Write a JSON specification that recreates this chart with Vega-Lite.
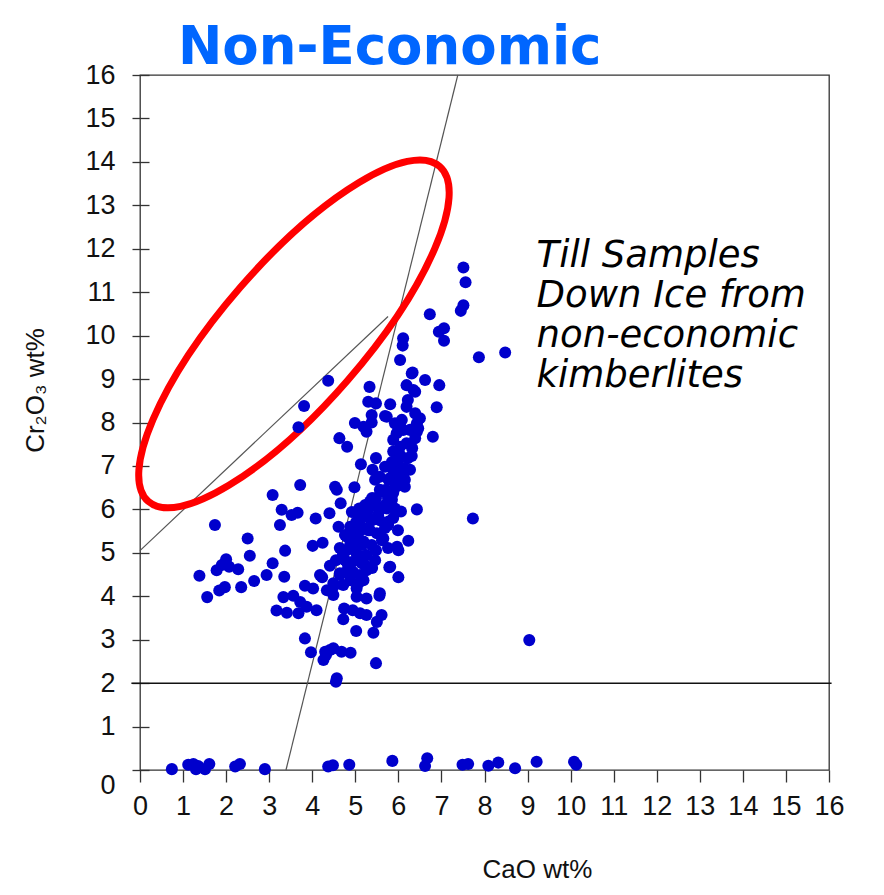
{
  "$schema": "https://vega.github.io/schema/vega-lite/v6.json",
  "width": 689,
  "height": 695,
  "autosize": {"type": "none"},
  "padding": {"left": 140, "top": 75, "right": 55, "bottom": 125},
  "background": "#ffffff",
  "config": {
    "view": {"stroke": "#333333", "strokeWidth": 1.3}
  },
  "title": {
    "text": "Non-Economic",
    "anchor": "start",
    "frame": "group",
    "dx": 38,
    "font": "DejaVu Sans",
    "fontSize": 53,
    "fontWeight": "bold",
    "color": "#0066ff",
    "baseline": "alphabetic",
    "offset": -56
  },
  "datasets": {
    "garnets": [
      {"CaO":3.72,"Cr2O3":6.56},{"CaO":3.08,"Cr2O3":6.33},{"CaO":4.53,"Cr2O3":6.52},{"CaO":4.57,"Cr2O3":6.45},{"CaO":4.98,"Cr2O3":6.51},
      {"CaO":3.29,"Cr2O3":5.99},{"CaO":3.52,"Cr2O3":5.87},{"CaO":3.66,"Cr2O3":5.92},{"CaO":4.08,"Cr2O3":5.79},{"CaO":4.40,"Cr2O3":5.91},
      {"CaO":4.66,"Cr2O3":6.14},{"CaO":1.74,"Cr2O3":5.64},{"CaO":3.25,"Cr2O3":5.64},{"CaO":4.61,"Cr2O3":5.60},{"CaO":2.50,"Cr2O3":5.33},
      {"CaO":4.01,"Cr2O3":5.16},{"CaO":4.24,"Cr2O3":5.23},{"CaO":3.37,"Cr2O3":5.05},{"CaO":2.55,"Cr2O3":4.93},{"CaO":2.00,"Cr2O3":4.85},
      {"CaO":1.90,"Cr2O3":4.72},{"CaO":1.78,"Cr2O3":4.60},{"CaO":2.28,"Cr2O3":4.62},{"CaO":2.07,"Cr2O3":4.68},{"CaO":1.38,"Cr2O3":4.47},
      {"CaO":3.08,"Cr2O3":4.76},{"CaO":2.94,"Cr2O3":4.49},{"CaO":2.65,"Cr2O3":4.35},{"CaO":2.35,"Cr2O3":4.21},{"CaO":1.97,"Cr2O3":4.21},
      {"CaO":1.84,"Cr2O3":4.13},{"CaO":1.56,"Cr2O3":3.98},{"CaO":3.35,"Cr2O3":4.45},{"CaO":4.41,"Cr2O3":4.70},{"CaO":4.23,"Cr2O3":4.44},
      {"CaO":3.83,"Cr2O3":4.24},{"CaO":4.02,"Cr2O3":4.18},{"CaO":3.33,"Cr2O3":3.98},{"CaO":3.56,"Cr2O3":4.01},{"CaO":3.72,"Cr2O3":3.87},
      {"CaO":3.87,"Cr2O3":3.76},{"CaO":4.10,"Cr2O3":3.68},{"CaO":3.17,"Cr2O3":3.67},{"CaO":3.41,"Cr2O3":3.62},{"CaO":3.68,"Cr2O3":3.61},
      {"CaO":4.34,"Cr2O3":4.14},{"CaO":4.49,"Cr2O3":4.03},{"CaO":4.72,"Cr2O3":4.26},{"CaO":4.88,"Cr2O3":4.37},{"CaO":5.03,"Cr2O3":4.18},
      {"CaO":5.19,"Cr2O3":4.37},{"CaO":5.03,"Cr2O3":3.99},{"CaO":5.26,"Cr2O3":3.95},{"CaO":5.56,"Cr2O3":4.01},{"CaO":4.74,"Cr2O3":3.72},
      {"CaO":4.94,"Cr2O3":3.68},{"CaO":5.11,"Cr2O3":3.61},{"CaO":5.26,"Cr2O3":3.57},{"CaO":4.72,"Cr2O3":3.47},{"CaO":5.61,"Cr2O3":3.57},
      {"CaO":5.50,"Cr2O3":3.41},{"CaO":5.42,"Cr2O3":3.16},{"CaO":5.02,"Cr2O3":3.20},{"CaO":3.83,"Cr2O3":3.03},{"CaO":3.97,"Cr2O3":2.71},
      {"CaO":4.30,"Cr2O3":2.72},{"CaO":4.49,"Cr2O3":2.80},{"CaO":4.68,"Cr2O3":2.72},{"CaO":4.89,"Cr2O3":2.70},{"CaO":4.26,"Cr2O3":2.53},
      {"CaO":4.32,"Cr2O3":2.65},{"CaO":5.48,"Cr2O3":2.46},{"CaO":4.57,"Cr2O3":2.11},{"CaO":4.55,"Cr2O3":2.03},{"CaO":5.79,"Cr2O3":4.67},
      {"CaO":6.00,"Cr2O3":4.44},{"CaO":6.00,"Cr2O3":5.06},{"CaO":6.23,"Cr2O3":5.28},{"CaO":6.43,"Cr2O3":6.00},{"CaO":5.98,"Cr2O3":5.95},
      {"CaO":4.71,"Cr2O3":4.95},{"CaO":4.88,"Cr2O3":5.18},{"CaO":4.76,"Cr2O3":5.41},{"CaO":4.99,"Cr2O3":5.52},{"CaO":5.11,"Cr2O3":5.76},
      {"CaO":4.92,"Cr2O3":5.94},{"CaO":5.23,"Cr2O3":6.10},{"CaO":5.39,"Cr2O3":6.26},{"CaO":5.57,"Cr2O3":6.45},{"CaO":5.46,"Cr2O3":6.68},
      {"CaO":5.81,"Cr2O3":6.72},{"CaO":5.92,"Cr2O3":6.91},{"CaO":6.04,"Cr2O3":6.56},{"CaO":5.69,"Cr2O3":6.10},{"CaO":5.53,"Cr2O3":5.87},
      {"CaO":5.34,"Cr2O3":5.52},{"CaO":5.16,"Cr2O3":5.18},{"CaO":5.06,"Cr2O3":4.83},{"CaO":4.83,"Cr2O3":4.72},{"CaO":4.64,"Cr2O3":4.49},
      {"CaO":5.23,"Cr2O3":4.72},{"CaO":5.46,"Cr2O3":4.83},{"CaO":5.62,"Cr2O3":5.29},{"CaO":5.76,"Cr2O3":5.64},{"CaO":5.85,"Cr2O3":6.22},
      {"CaO":6.15,"Cr2O3":6.68},{"CaO":6.27,"Cr2O3":6.91},{"CaO":5.76,"Cr2O3":5.11},{"CaO":5.48,"Cr2O3":5.06},
      {"CaO":4.37,"Cr2O3":8.96},{"CaO":3.81,"Cr2O3":8.38},{"CaO":3.68,"Cr2O3":7.89},{"CaO":5.33,"Cr2O3":8.82},{"CaO":5.30,"Cr2O3":8.48},
      {"CaO":5.48,"Cr2O3":8.44},{"CaO":5.81,"Cr2O3":8.42},{"CaO":6.31,"Cr2O3":9.13},{"CaO":6.19,"Cr2O3":8.86},{"CaO":6.39,"Cr2O3":8.71},
      {"CaO":6.62,"Cr2O3":8.98},{"CaO":6.95,"Cr2O3":8.86},{"CaO":6.89,"Cr2O3":8.35},{"CaO":6.19,"Cr2O3":8.36},{"CaO":6.39,"Cr2O3":8.21},
      {"CaO":5.38,"Cr2O3":8.17},{"CaO":5.38,"Cr2O3":8.00},{"CaO":4.99,"Cr2O3":7.99},{"CaO":5.19,"Cr2O3":7.90},{"CaO":5.26,"Cr2O3":7.79},
      {"CaO":5.73,"Cr2O3":8.13},{"CaO":5.92,"Cr2O3":7.98},{"CaO":6.43,"Cr2O3":7.98},{"CaO":5.96,"Cr2O3":7.75},{"CaO":6.27,"Cr2O3":7.83},
      {"CaO":6.43,"Cr2O3":7.79},{"CaO":6.80,"Cr2O3":7.67},{"CaO":4.63,"Cr2O3":7.64},{"CaO":4.81,"Cr2O3":7.44},{"CaO":5.88,"Cr2O3":7.60},
      {"CaO":6.04,"Cr2O3":7.44},{"CaO":6.19,"Cr2O3":7.52},{"CaO":5.88,"Cr2O3":7.33},{"CaO":6.00,"Cr2O3":7.14},{"CaO":6.31,"Cr2O3":7.23},
      {"CaO":5.48,"Cr2O3":7.18},{"CaO":5.13,"Cr2O3":7.04},{"CaO":5.40,"Cr2O3":6.91},{"CaO":5.69,"Cr2O3":6.98},{"CaO":5.88,"Cr2O3":6.91},
      {"CaO":6.11,"Cr2O3":6.79},{"CaO":5.57,"Cr2O3":6.75},{"CaO":5.77,"Cr2O3":6.68},{"CaO":5.96,"Cr2O3":6.60},{"CaO":6.15,"Cr2O3":6.52},
      {"CaO":5.65,"Cr2O3":6.41},{"CaO":5.88,"Cr2O3":6.38},{"CaO":5.34,"Cr2O3":6.18},{"CaO":5.53,"Cr2O3":6.06},{"CaO":5.09,"Cr2O3":6.02},
      {"CaO":5.23,"Cr2O3":5.91},{"CaO":5.73,"Cr2O3":6.02},{"CaO":5.92,"Cr2O3":6.02},{"CaO":6.06,"Cr2O3":5.95},{"CaO":5.11,"Cr2O3":5.83},
      {"CaO":5.34,"Cr2O3":5.79},{"CaO":5.57,"Cr2O3":5.75},{"CaO":5.77,"Cr2O3":5.72},{"CaO":4.88,"Cr2O3":5.60},{"CaO":5.09,"Cr2O3":5.49},
      {"CaO":5.30,"Cr2O3":5.52},{"CaO":5.50,"Cr2O3":5.45},{"CaO":5.65,"Cr2O3":5.33},{"CaO":4.80,"Cr2O3":5.37},{"CaO":4.95,"Cr2O3":5.22},
      {"CaO":5.19,"Cr2O3":5.26},{"CaO":5.38,"Cr2O3":5.18},{"CaO":4.80,"Cr2O3":5.06},{"CaO":5.03,"Cr2O3":4.99},{"CaO":5.26,"Cr2O3":4.95},
      {"CaO":5.97,"Cr2O3":5.14},{"CaO":4.92,"Cr2O3":4.79},{"CaO":5.15,"Cr2O3":4.76},{"CaO":5.81,"Cr2O3":4.68},{"CaO":4.18,"Cr2O3":4.49},
      {"CaO":4.64,"Cr2O3":4.53},{"CaO":4.95,"Cr2O3":4.56},{"CaO":5.26,"Cr2O3":4.60},{"CaO":4.49,"Cr2O3":4.30},{"CaO":5.07,"Cr2O3":4.30},
      {"CaO":5.57,"Cr2O3":4.07},{"CaO":4.41,"Cr2O3":2.76},{"CaO":4.49,"Cr2O3":4.22},
      {"CaO":4.76,"Cr2O3":4.83},{"CaO":4.92,"Cr2O3":5.11},{"CaO":5.06,"Cr2O3":5.34},{"CaO":5.20,"Cr2O3":5.57},{"CaO":5.39,"Cr2O3":5.75},
      {"CaO":5.57,"Cr2O3":5.99},{"CaO":5.76,"Cr2O3":6.26},{"CaO":5.92,"Cr2O3":6.49},{"CaO":6.04,"Cr2O3":6.72},{"CaO":6.13,"Cr2O3":6.95},
      {"CaO":6.22,"Cr2O3":7.18},{"CaO":6.32,"Cr2O3":7.41},{"CaO":6.39,"Cr2O3":7.64},{"CaO":6.46,"Cr2O3":7.87},{"CaO":6.50,"Cr2O3":8.10},
      {"CaO":6.08,"Cr2O3":8.06},{"CaO":6.22,"Cr2O3":8.52},{"CaO":6.04,"Cr2O3":7.25},{"CaO":5.85,"Cr2O3":7.09},{"CaO":5.71,"Cr2O3":6.45},
      {"CaO":5.48,"Cr2O3":6.26},{"CaO":5.30,"Cr2O3":5.99},{"CaO":5.02,"Cr2O3":5.71},{"CaO":4.88,"Cr2O3":5.41},{"CaO":4.64,"Cr2O3":5.11},
      {"CaO":4.55,"Cr2O3":4.83},{"CaO":4.78,"Cr2O3":4.56},{"CaO":5.11,"Cr2O3":4.49},{"CaO":5.39,"Cr2O3":4.65},{"CaO":5.69,"Cr2O3":5.57},
      {"CaO":5.88,"Cr2O3":5.80},{"CaO":5.99,"Cr2O3":5.52},
      {"CaO":7.51,"Cr2O3":11.57},{"CaO":7.56,"Cr2O3":11.23},{"CaO":7.51,"Cr2O3":10.70},{"CaO":7.45,"Cr2O3":10.57},{"CaO":6.73,"Cr2O3":10.49},
      {"CaO":7.06,"Cr2O3":10.17},{"CaO":6.94,"Cr2O3":10.09},{"CaO":7.06,"Cr2O3":9.88},{"CaO":7.87,"Cr2O3":9.50},{"CaO":8.48,"Cr2O3":9.61},
      {"CaO":6.11,"Cr2O3":9.94},{"CaO":6.10,"Cr2O3":9.77},{"CaO":6.04,"Cr2O3":9.44},{"CaO":6.33,"Cr2O3":9.15},{"CaO":6.35,"Cr2O3":8.75},
      {"CaO":5.69,"Cr2O3":8.15},{"CaO":6.11,"Cr2O3":7.83},{"CaO":7.73,"Cr2O3":5.79},{"CaO":9.04,"Cr2O3":2.99},
      {"CaO":0.74,"Cr2O3":0.02},{"CaO":1.12,"Cr2O3":0.12},{"CaO":1.24,"Cr2O3":0.14},{"CaO":1.35,"Cr2O3":0.09},{"CaO":1.51,"Cr2O3":0.02},
      {"CaO":1.61,"Cr2O3":0.14},{"CaO":1.30,"Cr2O3":0.02},{"CaO":2.21,"Cr2O3":0.08},{"CaO":2.32,"Cr2O3":0.14},{"CaO":2.90,"Cr2O3":0.02},
      {"CaO":4.37,"Cr2O3":0.08},{"CaO":4.48,"Cr2O3":0.11},{"CaO":4.86,"Cr2O3":0.12},{"CaO":5.86,"Cr2O3":0.21},{"CaO":6.62,"Cr2O3":0.09},
      {"CaO":6.67,"Cr2O3":0.27},{"CaO":7.49,"Cr2O3":0.12},{"CaO":7.62,"Cr2O3":0.14},{"CaO":8.09,"Cr2O3":0.10},{"CaO":8.32,"Cr2O3":0.17},
      {"CaO":8.71,"Cr2O3":0.04},{"CaO":9.21,"Cr2O3":0.19},{"CaO":10.08,"Cr2O3":0.19},{"CaO":10.13,"Cr2O3":0.12}
    ]
  },
  "encoding": {
    "x": {
      "field": "CaO",
      "type": "quantitative",
      "scale": {"domain": [0, 16], "nice": false, "zero": false},
      "axis": {
        "title": "CaO wt%",
        "values": [0,1,2,3,4,5,6,7,8,9,10,11,12,13,14,15,16],
        "domain": false,
        "grid": false,
        "tickSize": 12,
        "tickColor": "#333333",
        "tickWidth": 1.3,
        "labelFont": "Liberation Sans",
        "labelFontSize": 27,
        "labelColor": "#111111",
        "labelPadding": 11,
        "labelOverlap": false,
        "labelFlush": false,
        "labelBound": false,
        "titleFont": "Liberation Sans",
        "titleFontSize": 26,
        "titleFontWeight": "normal",
        "titleColor": "#111111",
        "titleX": 397,
        "titleY": 107,
        "titleAlign": "center",
        "titleBaseline": "alphabetic"
      }
    },
    "y": {
      "field": "Cr2O3",
      "type": "quantitative",
      "scale": {"domain": [0, 16], "nice": false, "zero": false},
      "axis": {
        "title": "Cr₂O₃ wt%",
        "values": [0,1,2,3,4,5,6,7,8,9,10,11,12,13,14,15,16],
        "domain": false,
        "grid": false,
        "offset": -9,
        "tickSize": 17,
        "tickColor": "#333333",
        "tickWidth": 1.3,
        "labelFont": "Liberation Sans",
        "labelFontSize": 27,
        "labelColor": "#111111",
        "labelPadding": 17,
        "labelOverlap": false,
        "labelFlush": false,
        "labelBound": false,
        "labelOffset": {"condition": {"test": "datum.value === 0", "value": 15}, "value": 0},
        "titleFont": "Liberation Sans",
        "titleFontSize": 26,
        "titleFontWeight": "normal",
        "titleColor": "#111111",
        "titleAngle": 270,
        "titleX": -106,
        "titleY": 315,
        "titleAlign": "center",
        "titleBaseline": "alphabetic"
      }
    }
  },
  "layer": [
    {
      "data": {"values": [{"CaO": -0.2, "Cr2O3": 2, "CaO_end": 16.06, "Cr2O3_end": 2}]},
      "mark": {"type": "rule", "color": "#111111", "strokeWidth": 1.5},
      "encoding": {"x2": {"field": "CaO_end"}, "y2": {"field": "Cr2O3_end"}}
    },
    {
      "data": {"values": [
        {"CaO": 3.39, "Cr2O3": 0, "CaO_end": 7.38, "Cr2O3_end": 16},
        {"CaO": 0, "Cr2O3": 5.05, "CaO_end": 5.76, "Cr2O3_end": 10.44}
      ]},
      "mark": {"type": "rule", "color": "#555555", "strokeWidth": 1.2},
      "encoding": {"x2": {"field": "CaO_end"}, "y2": {"field": "Cr2O3_end"}}
    },
    {
      "data": {"values": [{"CaO": 3.575, "Cr2O3": 10.04}]},
      "mark": {
        "type": "point",
        "shape": "M 1 0 C 1 0.1767 0.5523 0.32 0 0.32 C -0.5523 0.32 -1 0.1767 -1 0 C -1 -0.1767 -0.5523 -0.32 0 -0.32 C 0.5523 -0.32 1 -0.1767 1 0 Z",
        "size": 197136,
        "angle": -49,
        "filled": false,
        "stroke": "#ff0000",
        "strokeWidth": 7,
        "opacity": 1
      }
    },
    {
      "data": {"name": "garnets"},
      "mark": {"type": "circle", "size": 145, "color": "#0000cc", "opacity": 1}
    },
    {
      "data": {"values": [{"CaO": 9.21, "Cr2O3": 11.57, "note": "Till Samples\nDown Ice from\nnon-economic\nkimberlites"}]},
      "mark": {
        "type": "text",
        "align": "left",
        "baseline": "alphabetic",
        "font": "DejaVu Sans",
        "fontStyle": "italic",
        "fontSize": 37,
        "lineHeight": 40,
        "lineBreak": "\n",
        "color": "#000000"
      },
      "encoding": {"text": {"field": "note"}}
    }
  ]
}
